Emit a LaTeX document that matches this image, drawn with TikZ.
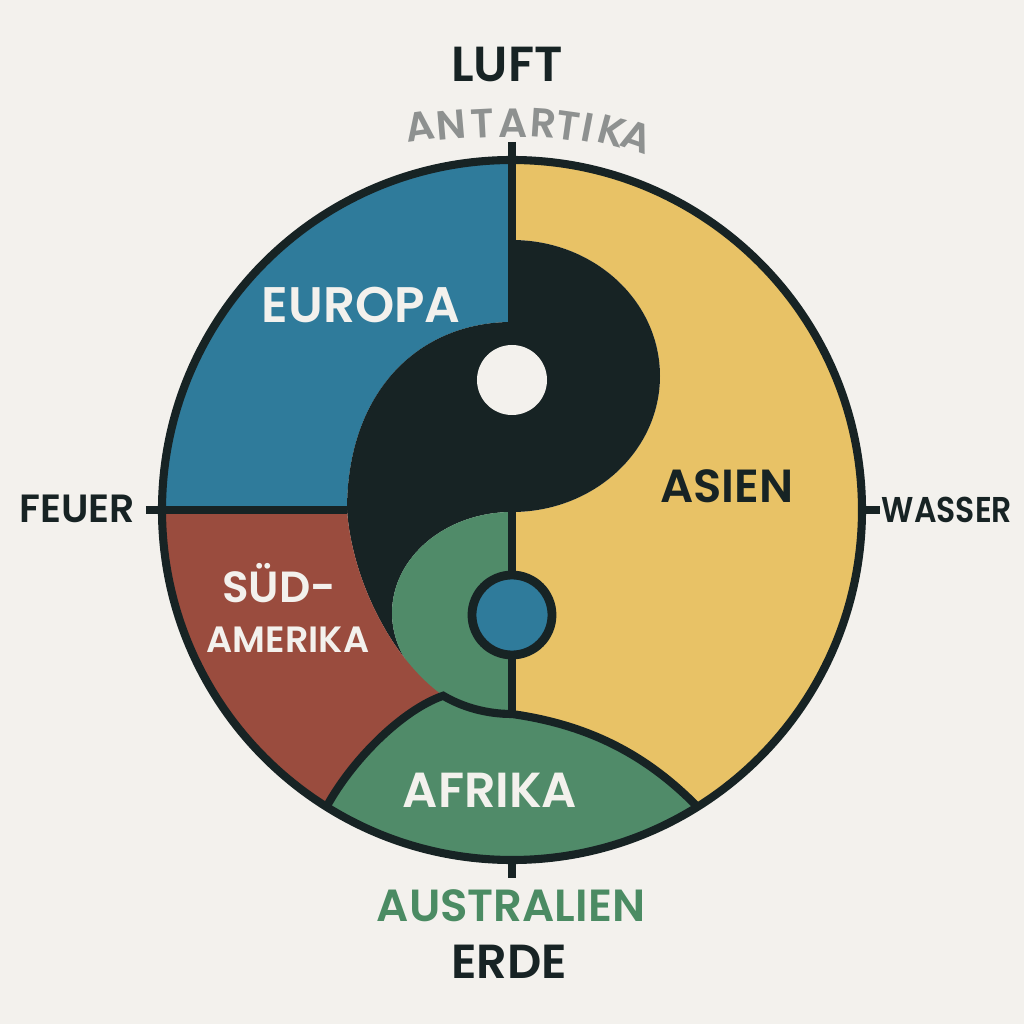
\documentclass[tikz,border=0pt]{standalone}
\usepackage{fontspec}
\setmainfont{Poppins}[BoldFont={Poppins SemiBold}]
\definecolor{paper}{HTML}{F3F1ED}
\definecolor{ink}{HTML}{172324}
\definecolor{seablue}{HTML}{2F7B9B}
\definecolor{sand}{HTML}{E8C266}
\definecolor{clay}{HTML}{9A4C3E}
\definecolor{leaf}{HTML}{508B69}
\definecolor{stone}{HTML}{8E9190}
\definecolor{leaftext}{HTML}{4B8B63}
\begin{document}
\begin{tikzpicture}[x=0.01cm, y=0.01cm,
  rim/.style={draw=ink, line width=2.3pt},
  lbl/.style={font=\bfseries\fontsize{#1}{#1}\selectfont, inner sep=0pt, anchor=base},
]

% Background
\fill[paper] (-512,-514) rectangle (512,510);
\useasboundingbox (-512,-514) rectangle (512,510);

% Junction of the black tail, the inner green and Afrika
\path (0,-103) ++(235:120 and 101) coordinate (J);

% Europa
\fill[seablue] (0,350) -- (0,188) .. controls (-92,188) and (-165,120) .. (-165,0)
  -- (-350,0) arc[start angle=180, end angle=90, radius=350] -- cycle;

% Asien
\fill[sand] (0,350) arc[start angle=90, end angle=-58, radius=350]
  .. controls (130,-240) and (70,-214) .. (0,-204) -- (0,-2)
  arc[start angle=-90, end angle=90, x radius=148, y radius=136] -- cycle;

% Black swirl
\fill[ink] (0,270) arc[start angle=90, end angle=-90, x radius=148, y radius=136]
  arc[start angle=90, end angle=235, x radius=120, y radius=101]
  .. controls (-120,-150) and (-160,-70) .. (-165,0)
  .. controls (-165,120) and (-92,188) .. (0,188) -- cycle;

% Inner green
\fill[leaf] (0,-2) arc[start angle=90, end angle=270, x radius=120, y radius=101] -- cycle;

% Sued-Amerika
\fill[clay] (-350,0) -- (-165,0) .. controls (-160,-70) and (-120,-150) .. (J)
  .. controls (-110,-200) and (-160,-250) .. (238:350)
  arc[start angle=238, end angle=180, radius=350] -- cycle;

% Afrika
\fill[leaf] (J) arc[start angle=235, end angle=270, x radius=120, y radius=101]
  .. controls (70,-214) and (130,-240) .. (302:350)
  arc[start angle=302, end angle=238, radius=350]
  .. controls (-160,-250) and (-110,-200) .. (J) -- cycle;

% Outline and dividing lines
\draw[rim] (0,0) circle[radius=350];
\draw[rim] (0,368) -- (0,-204);
\draw[rim] (-366,0) -- (-165,0);
\draw[rim] (350,0) -- (368,0);
\draw[rim] (0,-350) -- (0,-368);
\draw[rim] (238:350) .. controls (-160,-250) and (-110,-200) .. (J)
  arc[start angle=235, end angle=270, x radius=120, y radius=101]
  .. controls (70,-214) and (130,-240) .. (302:350);

% Dots
\fill[paper] (0,130) circle[radius=35];
\draw[ink, line width=2.5pt, fill=seablue] (0,-105) circle[radius=40];

% Elements
\node[lbl=14pt, text=ink] (luft) at (-5,428) {LUFT};
\node[lbl=11.2pt, text=ink] (feuer) at (-435,-13) {FEUER};
\node[lbl=10.2pt, text=ink] (wasser) at (435,-13) {\scalebox{0.88}[1]{WASSER}};
\node[lbl=13.6pt, text=ink] (erde) at (-3,-468) {ERDE};

% Antartika, bent along the rim
\foreach \ch/\px/\py/\rot [count=\i] in {A/-90/370/8, N/-60/371/5, T/-29/372/3,
  A/1/372/0, R/31/373/-4, T/54/370/-8, I/73/368/-11, K/97/365/-15, A/120/360/-19} {
  \node[lbl=11.6pt, text=stone, rotate=\rot] (ant\i) at (\px,\py) {\ch};
}

% Continents
\node[lbl=14.2pt, text=paper] (europa) at (-151,187) {EUROPA};
\node[lbl=13.2pt, text=ink] (asien) at (215,8) {ASIEN};
\node[lbl=12.4pt, text=paper] (sued) at (-233,-93) {SÜD-};
\node[lbl=10.4pt, text=paper] (amerika) at (-224,-143) {AMERIKA};
\node[lbl=14pt, text=paper] (afrika) at (-22,-297) {AFRIKA};
\node[lbl=12.8pt, text=leaftext] (australien) at (-1,-411) {AUSTRALIEN};

\end{tikzpicture}
\end{document}
